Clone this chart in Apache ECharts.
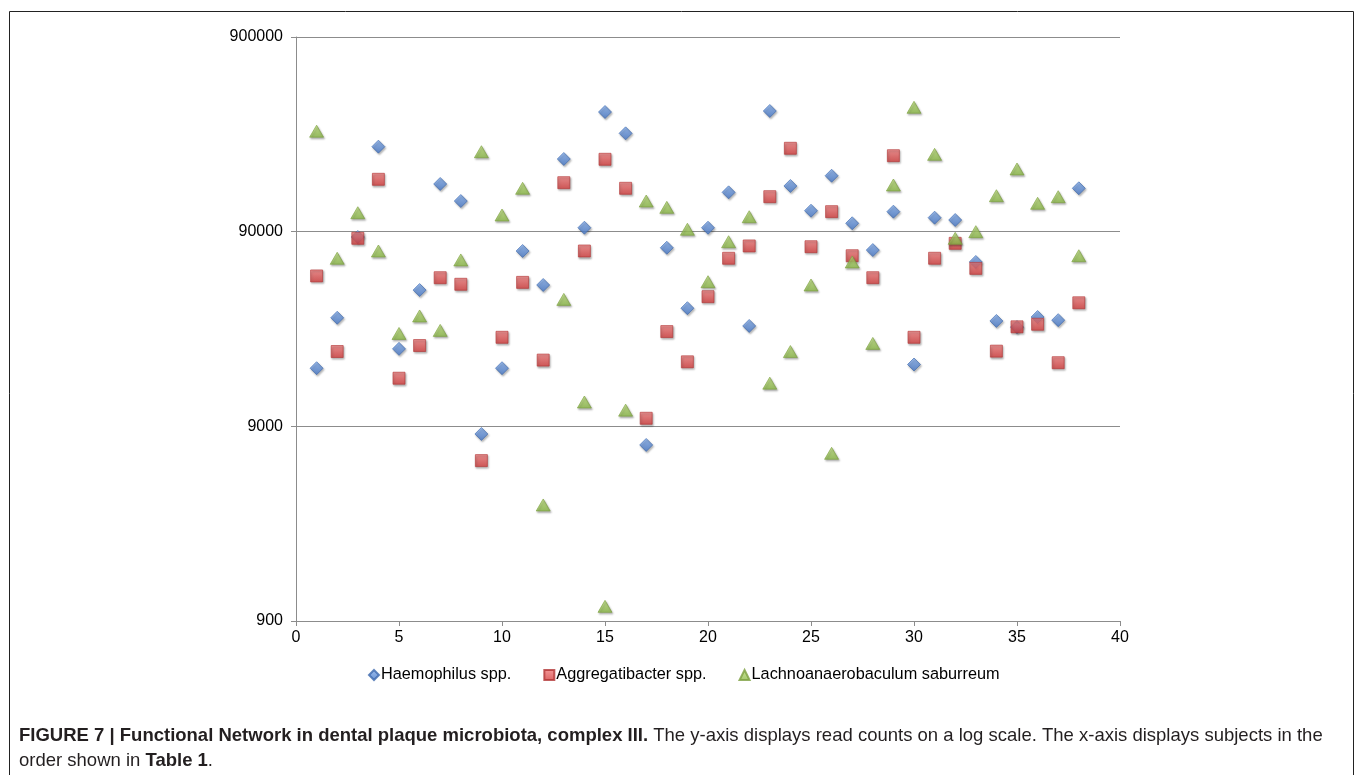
<!DOCTYPE html>
<html>
<head>
<meta charset="utf-8">
<script src="https://cdn.jsdelivr.net/npm/echarts@6/dist/echarts.min.js"></script>
<style>
html,body{margin:0;padding:0;background:#fff;}
#chart{width:1357px;height:775px;}
</style>
</head>
<body>
<div id="chart"></div>
<script>
// Subjects (x) 1..38
const subjects = [1,2,3,4,5,6,7,8,9,10,11,12,13,14,15,16,17,18,19,20,21,22,23,24,25,26,27,28,29,30,31,32,33,34,35,36,37,38];
const yTicks = [900, 9000, 90000, 900000];
const xTicks = [0, 5, 10, 15, 20, 25, 30, 35, 40];

const haemophilus = [17900,32500,84500,246000,22500,45100,158200,129300,8220,17900,71600,47900,212600,94300,370600,288000,7220,74400,36400,94300,143300,29500,375100,154500,115300,174400,99400,72400,114000,18700,106200,103300,62900,31300,29100,32800,31600,150300];
const aggregatibacter = [53300,21800,83200,167200,15900,23400,52200,48300,6000,25800,49400,19700,160600,71600,211800,150300,9900,27600,19300,41700,65700,76000,136100,241300,75300,114000,67700,52200,221000,25800,65700,78400,58300,21900,29200,30100,19100,38800];
const lachnoanaerobaculum = [295300,65700,112600,71600,27000,33200,28000,64400,231700,109600,150300,3550,40400,12000,1070,10900,129300,120000,92600,49800,79900,107400,15000,21800,47900,6540,62900,24000,156300,391800,224600,83200,90000,137700,188900,125900,136100,67700];

const seriesNames = ['Haemophilus spp.', 'Aggregatibacter spp.', 'Lachnoanaerobaculum saburreum'];

function pairs(vals){ return subjects.map((s,i)=>[s, vals[i]]); }
function grad(top, bottom){
  return new echarts.graphic.LinearGradient(0,0,0,1,[{offset:0,color:top},{offset:1,color:bottom}]);
}
const shadow = {shadowColor:'rgba(0,0,0,0.35)', shadowBlur:2, shadowOffsetX:1, shadowOffsetY:1.5};

const chart = echarts.init(document.getElementById('chart'), null, {renderer:'canvas'});
const font = '"Liberation Sans", Arial, Helvetica, sans-serif';
chart.setOption({
  animation:false,
  backgroundColor:'#fff',
  grid:{left:296, right:237, top:37, bottom:154, containLabel:false},
  xAxis:{
    type:'value', min:0, max:40, interval:5,
    axisLine:{show:true, lineStyle:{color:'#8c8c8c', width:1}},
    axisTick:{show:true, length:5, inside:false, lineStyle:{color:'#8c8c8c'}},
    axisLabel:{color:'#000', fontSize:16, fontFamily:font, margin:9,
      customValues: xTicks},
    splitLine:{show:false}
  },
  yAxis:{
    type:'log', logBase:10, min:900, max:900000,
    axisLine:{show:true, lineStyle:{color:'#8c8c8c', width:1}},
    axisTick:{show:true, length:5, customValues: yTicks, lineStyle:{color:'#8c8c8c'}},
    axisLabel:{color:'#000', fontSize:16, fontFamily:font, margin:13,
      customValues: yTicks, formatter:(v)=>String(Math.round(v))},
    splitLine:{show:true, lineStyle:{color:'#8c8c8c', width:1}}
  },
  legend:{
    left:363, top:662, itemGap:32, itemWidth:10, itemHeight:10,
    textStyle:{color:'#000', fontSize:16.3, fontFamily:font, padding:[0,0,0,-3]},
    data:[
      {name:seriesNames[0], icon:'diamond'},
      {name:seriesNames[1], icon:'rect'},
      {name:seriesNames[2], icon:'triangle'}
    ]
  },
  series:[
    {name:seriesNames[0], type:'scatter', symbol:'diamond', symbolSize:[13,13],
     data:pairs(haemophilus), z:3,
     itemStyle:Object.assign({color:grad('#86b0ee','#4677c6'), borderColor:'#3c68ad', borderWidth:0.8}, shadow)},
    {name:seriesNames[1], type:'scatter', symbol:'rect', symbolSize:[12,12],
     data:pairs(aggregatibacter), z:4,
     itemStyle:Object.assign({color:grad('#f28080','#d23c3c'), borderColor:'#b23535', borderWidth:0.8}, shadow)},
    {name:seriesNames[2], type:'scatter', symbol:'triangle', symbolSize:[14,12],
     data:pairs(lachnoanaerobaculum), z:5,
     itemStyle:Object.assign({color:grad('#bfe07e','#8ab846'), borderColor:'#7c9f3f', borderWidth:0.8}, shadow)}
  ],
  graphic:[
    {type:'rect', left:7, top:9, z:-1, silent:true,
     shape:{width:1344, height:800},
     style:{fill:null, stroke:'#222', lineWidth:1}},
    {type:'text', left:19, top:723, silent:true,
     style:{
       text:'{b|FIGURE 7 | Functional Network in dental plaque microbiota, complex III.} The y-axis displays read counts on a log scale. The x-axis displays subjects in the\norder shown in {b|Table 1}.',
       fontSize:18.5, fontFamily:font, fill:'#231f20', lineHeight:25,
       rich:{b:{fontWeight:'bold', fontSize:18.5, fontFamily:font, fill:'#231f20'}}
     }}
  ]
});
</script>
</body>
</html>
